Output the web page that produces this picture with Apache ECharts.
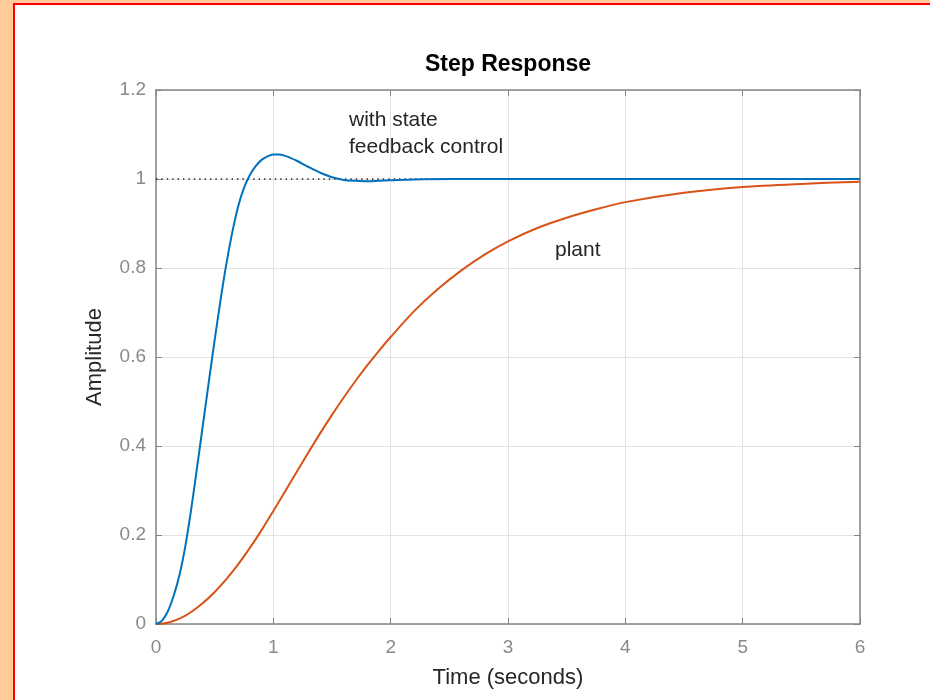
<!DOCTYPE html>
<html>
<head>
<meta charset="utf-8">
<script src="https://cdn.jsdelivr.net/npm/echarts@6/dist/echarts.min.js"></script>
<style>
  html, body { margin: 0; padding: 0; width: 930px; height: 700px; overflow: hidden; background: #FFCC99; }
  #frame { position: absolute; left: 13px; top: 3px; width: 940px; height: 720px; border-left: 2px solid #FF0000; border-top: 2px solid #FF0000; background: #FFFFFF; }
  #chart { position: absolute; left: 0; top: 0; width: 930px; height: 700px; }
</style>
</head>
<body>
<div id="frame"></div>
<div id="chart"></div>
<script>
// ---- data ----
const titleText = "Step Response";
const xName = "Time (seconds)";
const yName = "Amplitude";
const xTicks = [0, 1, 2, 3, 4, 5, 6];
const yTicks = [0, 0.2, 0.4, 0.6, 0.8, 1, 1.2];

// with state feedback control (blue)
const feedbackT = [0, 0.05, 0.1, 0.15, 0.2, 0.25, 0.3, 0.35, 0.4, 0.45, 0.5, 0.55, 0.6, 0.65, 0.7, 0.75, 0.8, 0.85, 0.9, 0.95, 1.0, 1.05, 1.1, 1.15, 1.2, 1.3, 1.4, 1.5, 1.6, 1.7, 1.8, 1.9, 2.0, 2.2, 2.5, 3.0, 4.0, 5.0, 6.0];
const feedbackY = [0, 0.007, 0.028, 0.063, 0.11, 0.175, 0.258, 0.352, 0.448, 0.544, 0.638, 0.728, 0.81, 0.88, 0.938, 0.98, 1.009, 1.029, 1.043, 1.051, 1.055, 1.055, 1.052, 1.047, 1.041, 1.027, 1.014, 1.004, 0.998, 0.996, 0.995, 0.996, 0.997, 0.999, 1.0, 1.0, 1.0, 1.0, 1.0];

// plant (orange)
const plantT = [0, 0.1, 0.2, 0.3, 0.4, 0.5, 0.6, 0.7, 0.8, 0.9, 1.0, 1.1, 1.2, 1.3, 1.4, 1.5, 1.6, 1.7, 1.8, 1.9, 2.0, 2.2, 2.4, 2.6, 2.8, 3.0, 3.25, 3.5, 3.75, 4.0, 4.5, 5.0, 5.5, 6.0];
const plantY = [0, 0.003, 0.012, 0.027, 0.047, 0.072, 0.101, 0.134, 0.171, 0.211, 0.254, 0.298, 0.342, 0.386, 0.429, 0.47, 0.509, 0.546, 0.581, 0.614, 0.645, 0.703, 0.752, 0.794, 0.83, 0.86, 0.89, 0.913, 0.932, 0.948, 0.969, 0.982, 0.989, 0.994];

// steady-state reference
const steadyT = [0, 6];
const steadyY = [1, 1];

const annotations = [
  { text: "with state\nfeedback control" },
  { text: "plant" }
];

// ---- build chart ----
const pairs = (xs, ys) => xs.map((x, i) => [x, ys[i]]);
const font = "'Liberation Sans', Arial, Helvetica, sans-serif";
const axisGray = '#858585';
const labelGray = '#8a8a8a';
const gridGray = '#e2e2e2';

const chart = echarts.init(document.getElementById('chart'), null, { renderer: 'canvas' });

const baseX = {
  type: 'value', min: xTicks[0], max: xTicks[xTicks.length - 1], interval: 1,
  axisLine: { show: true, onZero: false, lineStyle: { color: axisGray, width: 1.5 } },
  axisTick: { show: true, inside: true, length: 6, lineStyle: { color: axisGray } },
};
const baseY = {
  type: 'value', min: yTicks[0], max: yTicks[yTicks.length - 1], interval: 0.2,
  axisLine: { show: true, onZero: false, lineStyle: { color: axisGray, width: 1.5 } },
  axisTick: { show: true, inside: true, length: 6, lineStyle: { color: axisGray } },
};

chart.setOption({
  animation: false,
  backgroundColor: 'transparent',
  textStyle: { fontFamily: font },
  grid: { left: 156, top: 90, width: 704, height: 534, containLabel: false },
  xAxis: [
    Object.assign({}, baseX, {
      position: 'bottom',
      name: xName, nameLocation: 'middle', nameGap: 43,
      nameTextStyle: { fontFamily: font, fontSize: 22, color: '#262626' },
      axisLabel: { show: true, margin: 14, fontFamily: font, fontSize: 19, color: labelGray },
      splitLine: { show: true, lineStyle: { color: gridGray, width: 1 } }
    }),
    Object.assign({}, baseX, {
      position: 'top',
      axisLabel: { show: false },
      splitLine: { show: false }
    })
  ],
  yAxis: [
    Object.assign({}, baseY, {
      position: 'left',
      name: yName, nameLocation: 'middle', nameGap: 50, nameRotate: 90,
      nameTextStyle: { fontFamily: font, fontSize: 22, color: '#262626' },
      axisLabel: { show: true, margin: 10, fontFamily: font, fontSize: 19, color: labelGray },
      splitLine: { show: true, lineStyle: { color: gridGray, width: 1 } }
    }),
    Object.assign({}, baseY, {
      position: 'right',
      axisLabel: { show: false },
      splitLine: { show: false }
    })
  ],
  series: [
    {
      name: 'steady state', type: 'line', data: pairs(steadyT, steadyY),
      symbol: 'none', z: 2,
      lineStyle: { color: '#222222', width: 1.4, type: [1.4, 4] }
    },
    {
      name: 'plant', type: 'line', data: pairs(plantT, plantY),
      symbol: 'none', smooth: 0.3, z: 3,
      lineStyle: { color: '#D95319', width: 2 }
    },
    {
      name: 'with state feedback control', type: 'line', data: pairs(feedbackT, feedbackY),
      symbol: 'none', smooth: 0.3, z: 4,
      lineStyle: { color: '#0072BD', width: 2 }
    }
  ],
  graphic: [
    {
      type: 'text', x: 508, y: 65,
      style: { text: titleText, font: "bold 23px " + font, fill: '#000000', textAlign: 'center', textVerticalAlign: 'middle' }
    },
    {
      type: 'text', x: 349, y: 107,
      style: { text: annotations[0].text, font: "21px " + font, fill: '#262626', textAlign: 'left', textVerticalAlign: 'top', lineHeight: 27 }
    },
    {
      type: 'text', x: 555, y: 250,
      style: { text: annotations[1].text, font: "21px " + font, fill: '#262626', textAlign: 'left', textVerticalAlign: 'middle' }
    }
  ]
});
</script>
</body>
</html>
